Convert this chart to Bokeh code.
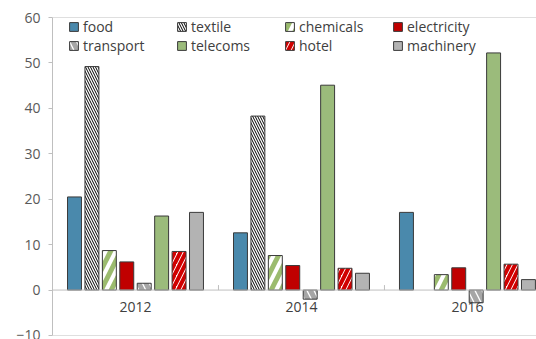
from bokeh.plotting import figure
from bokeh.models import ColumnDataSource, Legend, LegendItem, Span, FixedTicker
from bokeh.core.properties import value
from bokeh.embed import file_html
from bokeh.resources import INLINE
import math

years = ["2012", "2014", "2016"]
food = [20.5, 12.6, 17.1]
textile = [49.2, 38.3, math.nan]
chemicals = [8.7, 7.6, 3.4]
electricity = [6.2, 5.4, 4.9]
transport = [1.5, -2.0, -2.8]
telecoms = [16.3, 45.1, 52.2]
hotel = [8.5, 4.8, 5.7]
machinery = [17.1, 3.7, 2.3]
y_ticks = [-10, 0, 10, 20, 30, 40, 50, 60]

series = [
    ("food", food, dict(fill_color="#4a89ac")),
    ("textile", textile, dict(fill_color="white", hatch_pattern="\\", hatch_color="black", hatch_scale=5, hatch_weight=1)),
    ("chemicals", chemicals, dict(fill_color="white", hatch_pattern="/", hatch_color="#9bbb6e", hatch_scale=20, hatch_weight=5)),
    ("electricity", electricity, dict(fill_color="#c00000")),
    ("transport", transport, dict(fill_color="white", hatch_pattern="\\", hatch_color="#a6a6a6", hatch_scale=14, hatch_weight=5)),
    ("telecoms", telecoms, dict(fill_color="#9bbb7b")),
    ("hotel", hotel, dict(fill_color="white", hatch_pattern="/", hatch_color="#d00000", hatch_scale=11, hatch_weight=4)),
    ("machinery", machinery, dict(fill_color="#b3b3b3")),
]

FONT = "Open Sans"
GRAY = "#bfbfbf"
TXT = "#404040"

p = figure(width=536, height=339, output_backend="svg", toolbar_location=None,
           x_range=(-0.5, 2.416), y_range=(-10, 60),
           min_border_left=52, min_border_right=0, min_border_top=17, min_border_bottom=4)
p.outline_line_color = None
p.xgrid.visible = False
p.ygrid.visible = False
p.xaxis.visible = False
p.background_fill_color = "white"
p.border_fill_color = "white"

ya = p.yaxis[0]
ya.ticker = FixedTicker(ticks=y_ticks)
ya.axis_line_color = GRAY
ya.major_tick_line_color = GRAY
ya.major_tick_out = 4
ya.major_tick_in = 0
ya.minor_tick_line_color = None
ya.major_label_standoff = 8
ya.major_label_text_font = FONT
ya.major_label_text_font_size = "14px"
ya.major_label_text_color = "#595959"

for yv in (60, -10, 0):
    p.add_layout(Span(location=yv, dimension="width", line_color=GRAY, line_width=1))

n = len(series)
pitch = 0.105
bw = 0.084
items = []
for k, (name, vals, style) in enumerate(series):
    xs = [i + (k - (n - 1) / 2) * pitch for i in range(len(years))]
    src = ColumnDataSource(dict(x=xs, top=vals))
    r = p.vbar(x="x", top="top", bottom=0, width=bw, source=src,
               line_color="#3a3a3a", line_width=1, **style)
    items.append(LegendItem(label=name, renderers=[r]))

# legend fills column by column: reorder so that rows read food..electricity / transport..machinery
ncols = 4
ordered = []
for c in range(ncols):
    ordered.append(items[c])
    ordered.append(items[c + ncols])

# category separators and labels
sep_x = [i + 0.5 for i in range(len(years) - 1)]
p.segment(x0=sep_x, x1=sep_x, y0=[0] * len(sep_x), y1=[1.1] * len(sep_x), line_color=GRAY, line_width=1)
p.text(x=list(range(len(years))), y=[0] * len(years), text=years, y_offset=12,
       text_align="center", text_baseline="top", text_font=value(FONT),
       text_font_size="14px", text_color=TXT)

legend = Legend(items=ordered, ncols=ncols, location=(16, 280), padding=0, margin=0, spacing=0,
                glyph_width=11, glyph_height=11, label_standoff=4, label_width=93,
                label_height=17, border_line_color=None, background_fill_alpha=0,
                label_text_font=FONT, label_text_font_size="14px", label_text_color=TXT)
p.add_layout(legend)

open("out.html", "w").write(file_html(p, INLINE))
